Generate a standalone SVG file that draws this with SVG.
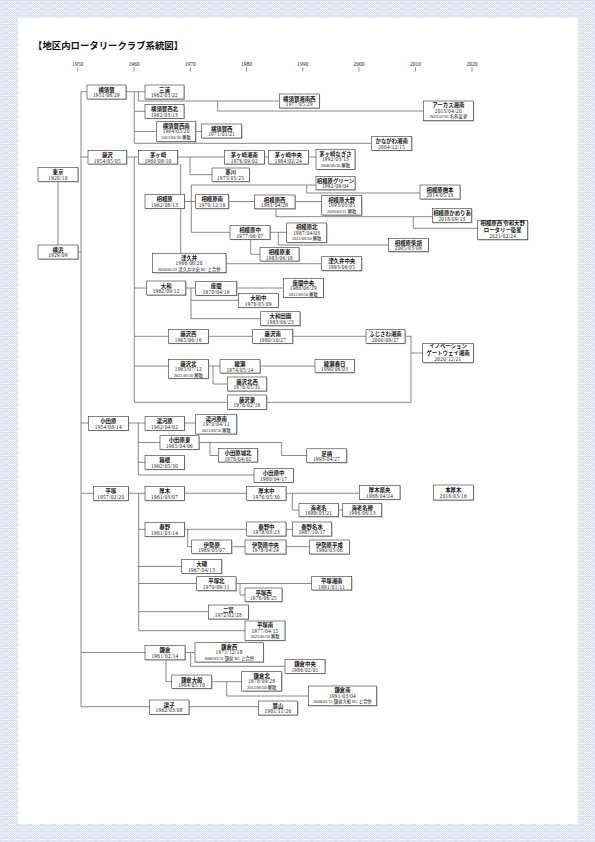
<svg xmlns="http://www.w3.org/2000/svg" xmlns:xlink="http://www.w3.org/1999/xlink" width="595" height="842" viewBox="0 0 595 842">
<style>
.s{fill:#a8a8a8}
.f{fill:#fff;stroke:#333;stroke-width:0.6}
.n{font-family:"Noto Sans CJK JP",sans-serif;font-size:5.4px;font-weight:bold;text-anchor:middle;fill:#111}
.d{font-family:"Liberation Serif","Noto Sans CJK JP",serif;font-size:5.2px;letter-spacing:0.35px;text-anchor:middle;fill:#111}
.e{font-family:"Liberation Serif","Noto Sans CJK JP",serif;font-size:4.3px;text-anchor:middle;fill:#111}
.c path{fill:none;stroke:#6a6a6a;stroke-width:0.8}
.yr{font-family:"Liberation Serif",serif;font-size:5.6px;text-anchor:middle;fill:#222}
.tk{stroke:#444;stroke-width:0.6}
.ttl{font-family:"Noto Sans CJK JP",sans-serif;font-size:9.4px;font-weight:bold;fill:#111}
.wv circle{stroke:#b3c0dc;stroke-width:0.55}
</style>
<defs>
<g id="w" class="wv"><circle r="6" fill="#fff"/><circle r="4.5" fill="none"/><circle r="3" fill="none"/><circle r="1.5" fill="none"/></g>
<pattern id="sg" width="12" height="6" patternUnits="userSpaceOnUse">
<rect width="12" height="6" fill="#fff"/>
<use xlink:href="#w" x="0" y="-6"/><use xlink:href="#w" x="12" y="-6"/>
<use xlink:href="#w" x="6" y="-3"/>
<use xlink:href="#w" x="0" y="0"/><use xlink:href="#w" x="12" y="0"/>
<use xlink:href="#w" x="6" y="3"/>
<use xlink:href="#w" x="0" y="6"/><use xlink:href="#w" x="12" y="6"/>
<use xlink:href="#w" x="6" y="9"/>
</pattern>
</defs>
<rect width="595" height="842" fill="url(#sg)"/>
<rect x="18" y="18" width="560" height="806" fill="#fff"/>
<text class="ttl" x="33" y="49">【地区内ロータリークラブ系統図】</text>
<g id="timeline">
<text class="yr" x="77.7" y="65.5">1950</text><path class="tk" d="M77.7 67.5V71.5"/>
<text class="yr" x="134" y="65.5">1960</text><path class="tk" d="M134 67.5V71.5"/>
<text class="yr" x="190.3" y="65.5">1970</text><path class="tk" d="M190.3 67.5V71.5"/>
<text class="yr" x="246.5" y="65.5">1980</text><path class="tk" d="M246.5 67.5V71.5"/>
<text class="yr" x="302.7" y="65.5">1990</text><path class="tk" d="M302.7 67.5V71.5"/>
<text class="yr" x="359" y="65.5">2000</text><path class="tk" d="M359 67.5V71.5"/>
<text class="yr" x="415.5" y="65.5">2010</text><path class="tk" d="M415.5 67.5V71.5"/>
<text class="yr" x="472" y="65.5">2020</text><path class="tk" d="M472 67.5V71.5"/>
</g>
<g id="connectors" class="c">
<path d="M58 181.5V245"/>
<path d="M78 252H81"/>
<path d="M81 91.7V706.7"/>
<path d="M81 91.7H87"/>
<path d="M126 91.7H145"/>
<path d="M134.3 91.7V143.3"/>
<path d="M138.3 91.7V101H279.3"/>
<path d="M217.7 101V111H423.3"/>
<path d="M134.3 111.3H145"/>
<path d="M134.3 131.5H156.7"/>
<path d="M195.7 131.5H201.7"/>
<path d="M134.3 143.3H371.7"/>
<path d="M81 157H88"/>
<path d="M126.7 157H138.3"/>
<path d="M134.3 157V402.3"/>
<path d="M177.7 157H224.3"/>
<path d="M264.3 157H268.3"/>
<path d="M308.3 157H316"/>
<path d="M190 157V174.7H212"/>
<path d="M180.7 164V194.3"/>
<path d="M180.7 208.3V253.3"/>
<path d="M184.3 201.5H195.7"/>
<path d="M191.3 185V232.3"/>
<path d="M191.3 185H316"/>
<path d="M306.7 185V193H420"/>
<path d="M228.7 201.5H254.3"/>
<path d="M295 201.5H321.7"/>
<path d="M276 208.8V216.7H432.3"/>
<path d="M413.3 216.7V228.3H477.7"/>
<path d="M191.3 232.3H230"/>
<path d="M270 232.3H286.7"/>
<path d="M278.3 232.3V245H388.3"/>
<path d="M250.7 239.3V254.3H260"/>
<path d="M226 263.7H321.7"/>
<path d="M134.3 288H146.7"/>
<path d="M185.7 288H195.7"/>
<path d="M236.7 288H283.3"/>
<path d="M191 288V318.7H260.7"/>
<path d="M191 300.3H238.3"/>
<path d="M134.3 336.3H168.3"/>
<path d="M208.3 336.3H252.7"/>
<path d="M292.7 336.3H366"/>
<path d="M405 336.3H411V402.3"/>
<path d="M411 353H422.7"/>
<path d="M134.3 366H168.3"/>
<path d="M208.3 366H220"/>
<path d="M260 366H315"/>
<path d="M213 366V384H227.3"/>
<path d="M134.3 402.3H227.3"/>
<path d="M266.7 402.3H411"/>
<path d="M81 423H88.3"/>
<path d="M128.3 423H145"/>
<path d="M138.3 423V475"/>
<path d="M184.3 423H195.7"/>
<path d="M138.3 442.5H160"/>
<path d="M199 442.5H281.7V455.5H306.7"/>
<path d="M210 442.5V455.5H218.3"/>
<path d="M138.3 462.3H145"/>
<path d="M138.3 475H254"/>
<path d="M81 493.3H93.3"/>
<path d="M128.3 493.3H145"/>
<path d="M138.7 493.3V630.7"/>
<path d="M184.3 493.3H246.7"/>
<path d="M286 493.3H359.3"/>
<path d="M292.3 493.3V510H299"/>
<path d="M338.3 510H342.7"/>
<path d="M138.7 529.3H145"/>
<path d="M184.3 529.3H246.7"/>
<path d="M286 529.3H292.3"/>
<path d="M187.7 529.3V546.7H191.7"/>
<path d="M231.7 546.7H245"/>
<path d="M286 546.7H309.3"/>
<path d="M138.7 566.5H181.7"/>
<path d="M138.7 583.5H196.7"/>
<path d="M236 583.5H311.7"/>
<path d="M240 583.5V595H245"/>
<path d="M138.7 611.7H208.3"/>
<path d="M138.7 630.7H245"/>
<path d="M81 652.5H145"/>
<path d="M185 652.5H195"/>
<path d="M190.7 652.5V666.3H285"/>
<path d="M166 659.8V681.7H171.7"/>
<path d="M211.7 681.7H241.7"/>
<path d="M226.7 681.7V696H308.3"/>
<path d="M81 706.7H149.3"/>
<path d="M189 706.7H258.3"/>
</g>
<g id="tokyo"><rect class="s" x="38.8" y="168.3" width="40" height="14"/><rect class="f" x="38" y="167.5" width="40" height="14"/><text class="n" x="58" y="174.2">東京</text><text class="d" x="58" y="179.7">1920/10</text></g>
<g id="yokohama"><rect class="s" x="38.8" y="245.8" width="40" height="14"/><rect class="f" x="38" y="245" width="40" height="14"/><text class="n" x="58" y="251.7">横浜</text><text class="d" x="58" y="257.2">1929/09</text></g>
<g id="yokosuka"><rect class="s" x="87.8" y="85.8" width="39" height="14"/><rect class="f" x="87" y="85" width="39" height="14"/><text class="n" x="106.5" y="91.7">横須賀</text><text class="d" x="106.5" y="97.2">1951/06/29</text></g>
<g id="miura"><rect class="s" x="145.8" y="85.8" width="39" height="14"/><rect class="f" x="145" y="85" width="39" height="14"/><text class="n" x="164.5" y="91.7">三浦</text><text class="d" x="164.5" y="97.2">1962/03/22</text></g>
<g id="yokosuka-seihoku"><rect class="s" x="145.8" y="105.1" width="39" height="14"/><rect class="f" x="145" y="104.3" width="39" height="14"/><text class="n" x="164.5" y="111">横須賀西北</text><text class="d" x="164.5" y="116.5">1962/03/13</text></g>
<g id="yokosuka-seinan"><rect class="s" x="157.5" y="122.5" width="39" height="20"/><rect class="f" x="156.7" y="121.7" width="39" height="20"/><text class="n" x="176.2" y="127.9">横須賀西南</text><text class="d" x="176.2" y="133.4">1964/05/20</text><text class="e" x="176.2" y="139">2012/06/30 解散</text></g>
<g id="yokosuka-nishi"><rect class="s" x="202.5" y="124.8" width="40" height="14"/><rect class="f" x="201.7" y="124" width="40" height="14"/><text class="n" x="221.7" y="130.7">横須賀西</text><text class="d" x="221.7" y="136.2">1971/01/21</text></g>
<g id="yokosuka-shonan-nishi"><rect class="s" x="280.1" y="94.8" width="40" height="14"/><rect class="f" x="279.3" y="94" width="40" height="14"/><text class="n" x="299.3" y="100.7">横須賀湘南西</text><text class="d" x="299.3" y="106.2">1977/05/29</text></g>
<g id="arcus-shonan"><rect class="s" x="424.1" y="101.8" width="50" height="19.7"/><rect class="f" x="423.3" y="101" width="50" height="19.7"/><text class="n" x="448.3" y="107.2">アーカス湘南</text><text class="d" x="448.3" y="112.7">2015/04/20</text><text class="e" x="448.3" y="118.3">2023/07/01 名称変更</text></g>
<g id="kanagawa-shonan"><rect class="s" x="372.5" y="137.1" width="40" height="14"/><rect class="f" x="371.7" y="136.3" width="40" height="14"/><text class="n" x="391.7" y="143">かながわ湘南</text><text class="d" x="391.7" y="148.5">2004/12/15</text></g>
<g id="fujisawa"><rect class="s" x="88.8" y="151.1" width="38.7" height="13.7"/><rect class="f" x="88" y="150.3" width="38.7" height="13.7"/><text class="n" x="107.35" y="157">藤沢</text><text class="d" x="107.35" y="162.5">1954/05/05</text></g>
<g id="chigasaki"><rect class="s" x="139.1" y="151.1" width="39.4" height="13.7"/><rect class="f" x="138.3" y="150.3" width="39.4" height="13.7"/><text class="n" x="158" y="157">茅ヶ崎</text><text class="d" x="158" y="162.5">1960/08/10</text></g>
<g id="chigasaki-shonan"><rect class="s" x="225.1" y="151.1" width="40" height="13.7"/><rect class="f" x="224.3" y="150.3" width="40" height="13.7"/><text class="n" x="244.3" y="157">茅ヶ崎湘南</text><text class="d" x="244.3" y="162.5">1976/09/02</text></g>
<g id="chigasaki-chuo"><rect class="s" x="269.1" y="151.1" width="40" height="13.7"/><rect class="f" x="268.3" y="150.3" width="40" height="13.7"/><text class="n" x="288.3" y="157">茅ヶ崎中央</text><text class="d" x="288.3" y="162.5">1984/02/24</text></g>
<g id="chigasaki-nagisa"><rect class="s" x="316.8" y="150.1" width="39" height="20"/><rect class="f" x="316" y="149.3" width="39" height="20"/><text class="n" x="335.5" y="155.5">茅ヶ崎なぎさ</text><text class="d" x="335.5" y="161">1992/03/13</text><text class="e" x="335.5" y="166.6">2008/06/30 解散</text></g>
<g id="samukawa"><rect class="s" x="212.8" y="168.8" width="37.3" height="13.6"/><rect class="f" x="212" y="168" width="37.3" height="13.6"/><text class="n" x="230.65" y="174.4">寒川</text><text class="d" x="230.65" y="180.2">1975/05/25</text></g>
<g id="sagamihara"><rect class="s" x="145.8" y="195.1" width="39.3" height="14"/><rect class="f" x="145" y="194.3" width="39.3" height="14"/><text class="n" x="164.65" y="201">相模原</text><text class="d" x="164.65" y="206.5">1962/08/13</text></g>
<g id="sagamihara-minami"><rect class="s" x="196.5" y="195.3" width="33" height="14"/><rect class="f" x="195.7" y="194.5" width="33" height="14"/><text class="n" x="212.2" y="201.2">相模原南</text><text class="d" x="212.2" y="206.7">1970/12/16</text></g>
<g id="sagamihara-green"><rect class="s" x="316.8" y="177.1" width="39" height="13.5"/><rect class="f" x="316" y="176.3" width="39" height="13.5"/><text class="n" x="335.5" y="183" font-size="4.8">相模原グリーン</text><text class="d" x="335.5" y="188.4">1992/09/04</text></g>
<g id="sagamihara-hashimoto"><rect class="s" x="420.8" y="185.8" width="40" height="14"/><rect class="f" x="420" y="185" width="40" height="14"/><text class="n" x="440" y="191.7">相模原橋本</text><text class="d" x="440" y="197.2">2014/05/13</text></g>
<g id="sagamihara-nishi"><rect class="s" x="255.1" y="195.8" width="40.7" height="13.8"/><rect class="f" x="254.3" y="195" width="40.7" height="13.8"/><text class="n" x="274.65" y="201.7">相模原西</text><text class="d" x="274.65" y="207.2">1981/04/28</text></g>
<g id="sagamihara-ono"><rect class="s" x="322.5" y="196.3" width="40" height="19.5"/><rect class="f" x="321.7" y="195.5" width="40" height="19.5"/><text class="n" x="341.7" y="201.7">相模原大野</text><text class="d" x="341.7" y="207.2">1993/05/05</text><text class="e" x="341.7" y="212.8">2020/03/31 解散</text></g>
<g id="sagamihara-kameria"><rect class="s" x="433.1" y="209.3" width="39.4" height="14"/><rect class="f" x="432.3" y="208.5" width="39.4" height="14"/><text class="n" x="452" y="215.2" font-size="4.9">相模原かめりあ</text><text class="d" x="452" y="220.7">2018/09/13</text></g>
<g id="sagamihara-nishi-reiwa-ono"><rect class="s" x="478.5" y="221.1" width="50" height="19.4"/><rect class="f" x="477.7" y="220.3" width="50" height="19.4"/><text class="n" x="502.7" y="225.4" font-size="4.4">相模原西 令和大野</text><text class="n" x="502.7" y="231.8" font-size="4.4">ロータリー衛星</text><text class="d" x="502.7" y="238.1">2021/02/24</text></g>
<g id="sagamihara-naka"><rect class="s" x="230.8" y="226.1" width="40" height="14"/><rect class="f" x="230" y="225.3" width="40" height="14"/><text class="n" x="250" y="232">相模原中</text><text class="d" x="250" y="237.5">1977/06/07</text></g>
<g id="sagamihara-kita"><rect class="s" x="287.5" y="223.8" width="40" height="19.4"/><rect class="f" x="286.7" y="223" width="40" height="19.4"/><text class="n" x="306.7" y="229.2">相模原北</text><text class="d" x="306.7" y="234.7">1987/04/03</text><text class="e" x="306.7" y="240.3">2012/06/30 解散</text></g>
<g id="sagamihara-saiko"><rect class="s" x="389.1" y="239.1" width="40" height="13.4"/><rect class="f" x="388.3" y="238.3" width="40" height="13.4"/><text class="n" x="408.3" y="244.9">相模原柴胡</text><text class="d" x="408.3" y="250.3">2005/03/08</text></g>
<g id="sagamihara-higashi"><rect class="s" x="260.8" y="248.3" width="39" height="13.5"/><rect class="f" x="260" y="247.5" width="39" height="13.5"/><text class="n" x="279.5" y="254.2">相模原東</text><text class="d" x="279.5" y="259.6">1983/06/18</text></g>
<g id="tsukui"><rect class="s" x="153.1" y="254.1" width="73.7" height="19.4"/><rect class="f" x="152.3" y="253.3" width="73.7" height="19.4"/><text class="n" x="189.15" y="259.5">津久井</text><text class="d" x="189.15" y="265">1966/06/20</text><text class="e" x="189.15" y="270.6">2020/05/31 津久井中央 RC と合併</text></g>
<g id="tsukui-chuo"><rect class="s" x="322.5" y="257.5" width="40" height="14"/><rect class="f" x="321.7" y="256.7" width="40" height="14"/><text class="n" x="341.7" y="263.4">津久井中央</text><text class="d" x="341.7" y="268.9">1993/06/05</text></g>
<g id="yamato"><rect class="s" x="147.5" y="281.8" width="39" height="14"/><rect class="f" x="146.7" y="281" width="39" height="14"/><text class="n" x="166.2" y="287.7">大和</text><text class="d" x="166.2" y="293.2">1962/09/12</text></g>
<g id="zama"><rect class="s" x="196.5" y="282.1" width="41" height="14"/><rect class="f" x="195.7" y="281.3" width="41" height="14"/><text class="n" x="216.2" y="288">座間</text><text class="d" x="216.2" y="293.5">1970/04/16</text></g>
<g id="zama-chuo"><rect class="s" x="284.1" y="279.1" width="40" height="19"/><rect class="f" x="283.3" y="278.3" width="40" height="19"/><text class="n" x="303.3" y="284.5">座間中央</text><text class="d" x="303.3" y="290">1986/06/29</text><text class="e" x="303.3" y="295.5">2011/06/30 解散</text></g>
<g id="yamato-naka"><rect class="s" x="239.1" y="294.1" width="40" height="14"/><rect class="f" x="238.3" y="293.3" width="40" height="14"/><text class="n" x="258.3" y="300">大和中</text><text class="d" x="258.3" y="305.5">1976/05/09</text></g>
<g id="yamato-denen"><rect class="s" x="261.5" y="312.5" width="39.3" height="14"/><rect class="f" x="260.7" y="311.7" width="39.3" height="14"/><text class="n" x="280.35" y="318.4">大和田園</text><text class="d" x="280.35" y="323.9">1983/06/23</text></g>
<g id="fujisawa-nishi"><rect class="s" x="169.1" y="330.1" width="40" height="14"/><rect class="f" x="168.3" y="329.3" width="40" height="14"/><text class="n" x="188.3" y="336">藤沢西</text><text class="d" x="188.3" y="341.5">1965/06/16</text></g>
<g id="fujisawa-minami"><rect class="s" x="253.5" y="330.1" width="40" height="14"/><rect class="f" x="252.7" y="329.3" width="40" height="14"/><text class="n" x="272.7" y="336">藤沢南</text><text class="d" x="272.7" y="341.5">1980/10/27</text></g>
<g id="fujisawa-shonan"><rect class="s" x="366.8" y="330.5" width="39" height="13.6"/><rect class="f" x="366" y="329.7" width="39" height="13.6"/><text class="n" x="385.5" y="336.4">ふじさわ湘南</text><text class="d" x="385.5" y="341.9">2000/09/27</text></g>
<g id="innovation-gateway-shonan"><rect class="s" x="423.5" y="344.1" width="50.6" height="19.4"/><rect class="f" x="422.7" y="343.3" width="50.6" height="19.4"/><text class="n" x="448" y="348.4" font-size="4.5">イノベーション</text><text class="n" x="448" y="354.8" font-size="4.5">ゲートウェイ湘南</text><text class="d" x="448" y="361.1">2020/12/21</text></g>
<g id="fujisawa-kita"><rect class="s" x="169.1" y="360.1" width="40" height="19"/><rect class="f" x="168.3" y="359.3" width="40" height="19"/><text class="n" x="188.3" y="365.5">藤沢北</text><text class="d" x="188.3" y="371">1965/07/12</text><text class="e" x="188.3" y="376.5">2021/06/30 解散</text></g>
<g id="ayase"><rect class="s" x="220.8" y="360.3" width="40" height="13.5"/><rect class="f" x="220" y="359.5" width="40" height="13.5"/><text class="n" x="240" y="366.2">綾瀬</text><text class="d" x="240" y="371.6">1974/05/14</text></g>
<g id="ayase-kasuga"><rect class="s" x="315.8" y="360.1" width="39.3" height="13.4"/><rect class="f" x="315" y="359.3" width="39.3" height="13.4"/><text class="n" x="334.65" y="366">綾瀬春日</text><text class="d" x="334.65" y="371.4">1990/06/03</text></g>
<g id="fujisawa-hokusei"><rect class="s" x="228.1" y="377.8" width="39.4" height="14"/><rect class="f" x="227.3" y="377" width="39.4" height="14"/><text class="n" x="247" y="383.7">藤沢北西</text><text class="d" x="247" y="389.2">1976/05/31</text></g>
<g id="fujisawa-higashi"><rect class="s" x="228.1" y="395.8" width="39.4" height="14.3"/><rect class="f" x="227.3" y="395" width="39.4" height="14.3"/><text class="n" x="247" y="401.7">藤沢東</text><text class="d" x="247" y="407.2">1976/02/18</text></g>
<g id="odawara"><rect class="s" x="89.1" y="417.1" width="40" height="14"/><rect class="f" x="88.3" y="416.3" width="40" height="14"/><text class="n" x="108.3" y="423">小田原</text><text class="d" x="108.3" y="428.5">1954/08/14</text></g>
<g id="yugawara"><rect class="s" x="145.8" y="417.1" width="39.3" height="14"/><rect class="f" x="145" y="416.3" width="39.3" height="14"/><text class="n" x="164.65" y="423">湯河原</text><text class="d" x="164.65" y="428.5">1962/04/02</text></g>
<g id="yugawara-minami"><rect class="s" x="196.5" y="415.3" width="41" height="19.5"/><rect class="f" x="195.7" y="414.5" width="41" height="19.5"/><text class="n" x="216.2" y="420.7">湯河原南</text><text class="d" x="216.2" y="426.2">1970/04/11</text><text class="e" x="216.2" y="431.8">2011/06/30 解散</text></g>
<g id="odawara-higashi"><rect class="s" x="160.8" y="436.5" width="39" height="13.6"/><rect class="f" x="160" y="435.7" width="39" height="13.6"/><text class="n" x="179.5" y="442.4">小田原東</text><text class="d" x="179.5" y="447.9">1965/04/06</text></g>
<g id="odawara-johoku"><rect class="s" x="219.1" y="449.4" width="39.4" height="13.4"/><rect class="f" x="218.3" y="448.6" width="39.4" height="13.4"/><text class="n" x="238" y="455.3">小田原城北</text><text class="d" x="238" y="460.7">1976/04/02</text></g>
<g id="ashigara"><rect class="s" x="307.5" y="449.6" width="40" height="13.8"/><rect class="f" x="306.7" y="448.8" width="40" height="13.8"/><text class="n" x="326.7" y="455.5">足柄</text><text class="d" x="326.7" y="461">1993/04/27</text></g>
<g id="hakone"><rect class="s" x="145.8" y="456.3" width="39.3" height="13.8"/><rect class="f" x="145" y="455.5" width="39.3" height="13.8"/><text class="n" x="164.65" y="462.2">箱根</text><text class="d" x="164.65" y="467.7">1962/05/30</text></g>
<g id="odawara-naka"><rect class="s" x="254.8" y="469.1" width="39.3" height="14"/><rect class="f" x="254" y="468.3" width="39.3" height="14"/><text class="n" x="273.65" y="475">小田原中</text><text class="d" x="273.65" y="480.5">1980/04/17</text></g>
<g id="hiratsuka"><rect class="s" x="94.1" y="487.3" width="35" height="14"/><rect class="f" x="93.3" y="486.5" width="35" height="14"/><text class="n" x="110.8" y="493.2">平塚</text><text class="d" x="110.8" y="498.7">1957/02/20</text></g>
<g id="atsugi"><rect class="s" x="145.8" y="487.3" width="39.3" height="14"/><rect class="f" x="145" y="486.5" width="39.3" height="14"/><text class="n" x="164.65" y="493.2">厚木</text><text class="d" x="164.65" y="498.7">1961/03/07</text></g>
<g id="atsugi-naka"><rect class="s" x="247.5" y="487.1" width="39.3" height="14"/><rect class="f" x="246.7" y="486.3" width="39.3" height="14"/><text class="n" x="266.35" y="493">厚木中</text><text class="d" x="266.35" y="498.5">1976/05/30</text></g>
<g id="atsugi-kenou"><rect class="s" x="360.1" y="486.1" width="40.7" height="14"/><rect class="f" x="359.3" y="485.3" width="40.7" height="14"/><text class="n" x="379.65" y="492">厚木県央</text><text class="d" x="379.65" y="497.5">1988/04/24</text></g>
<g id="ebina"><rect class="s" x="299.8" y="504.1" width="39.3" height="13.4"/><rect class="f" x="299" y="503.3" width="39.3" height="13.4"/><text class="n" x="318.65" y="510">海老名</text><text class="d" x="318.65" y="515.4">1988/03/21</text></g>
<g id="ebina-keyaki"><rect class="s" x="343.5" y="504.1" width="39" height="13.4"/><rect class="f" x="342.7" y="503.3" width="39" height="13.4"/><text class="n" x="362.2" y="510">海老名欅</text><text class="d" x="362.2" y="515.4">1996/06/13</text></g>
<g id="hon-atsugi"><rect class="s" x="434.1" y="485.8" width="40" height="15"/><rect class="f" x="433.3" y="485" width="40" height="15"/><text class="n" x="453.3" y="492.2">本厚木</text><text class="d" x="453.3" y="497.9">2016/03/16</text></g>
<g id="hadano"><rect class="s" x="145.8" y="523.1" width="39.3" height="14.2"/><rect class="f" x="145" y="522.3" width="39.3" height="14.2"/><text class="n" x="164.65" y="529">秦野</text><text class="d" x="164.65" y="534.5">1961/03/14</text></g>
<g id="hadano-naka"><rect class="s" x="247.5" y="522.8" width="39.3" height="14"/><rect class="f" x="246.7" y="522" width="39.3" height="14"/><text class="n" x="266.35" y="528.7">秦野中</text><text class="d" x="266.35" y="534.2">1978/03/23</text></g>
<g id="hadano-meisui"><rect class="s" x="293.1" y="522.8" width="39.4" height="14"/><rect class="f" x="292.3" y="522" width="39.4" height="14"/><text class="n" x="312" y="528.7">秦野名水</text><text class="d" x="312" y="534.2">1987/10/17</text></g>
<g id="isehara"><rect class="s" x="192.5" y="540.8" width="40" height="13.4"/><rect class="f" x="191.7" y="540" width="40" height="13.4"/><text class="n" x="211.7" y="546.7">伊勢原</text><text class="d" x="211.7" y="552.1">1969/05/07</text></g>
<g id="isehara-chuo"><rect class="s" x="245.8" y="540.8" width="41" height="14"/><rect class="f" x="245" y="540" width="41" height="14"/><text class="n" x="265.5" y="546.7">伊勢原中央</text><text class="d" x="265.5" y="552.2">1978/04/24</text></g>
<g id="isehara-heisei"><rect class="s" x="310.1" y="540.8" width="40" height="14"/><rect class="f" x="309.3" y="540" width="40" height="14"/><text class="n" x="329.3" y="546.7">伊勢原平成</text><text class="d" x="329.3" y="552.2">1990/03/06</text></g>
<g id="oiso"><rect class="s" x="182.5" y="560.1" width="40" height="14"/><rect class="f" x="181.7" y="559.3" width="40" height="14"/><text class="n" x="201.7" y="566">大磯</text><text class="d" x="201.7" y="571.5">1967/04/13</text></g>
<g id="hiratsuka-kita"><rect class="s" x="197.5" y="577.5" width="39.3" height="14"/><rect class="f" x="196.7" y="576.7" width="39.3" height="14"/><text class="n" x="216.35" y="583.4">平塚北</text><text class="d" x="216.35" y="588.9">1970/09/11</text></g>
<g id="hiratsuka-shonan"><rect class="s" x="312.5" y="577.1" width="40" height="13.7"/><rect class="f" x="311.7" y="576.3" width="40" height="13.7"/><text class="n" x="331.7" y="583">平塚湘南</text><text class="d" x="331.7" y="588.5">1991/01/11</text></g>
<g id="hiratsuka-nishi"><rect class="s" x="245.8" y="588.8" width="37" height="13.7"/><rect class="f" x="245" y="588" width="37" height="13.7"/><text class="n" x="263.5" y="594.7">平塚西</text><text class="d" x="263.5" y="600.2">1976/06/25</text></g>
<g id="ninomiya"><rect class="s" x="209.1" y="605.8" width="40" height="14"/><rect class="f" x="208.3" y="605" width="40" height="14"/><text class="n" x="228.3" y="611.7">二宮</text><text class="d" x="228.3" y="617.2">1972/02/28</text></g>
<g id="hiratsuka-minami"><rect class="s" x="245.8" y="621.8" width="40" height="19.4"/><rect class="f" x="245" y="621" width="40" height="19.4"/><text class="n" x="265" y="627.2">平塚南</text><text class="d" x="265" y="632.7">1977/04/15</text><text class="e" x="265" y="638.3">2023/06/30 解散</text></g>
<g id="kamakura"><rect class="s" x="145.8" y="646.3" width="40" height="14.3"/><rect class="f" x="145" y="645.5" width="40" height="14.3"/><text class="n" x="165" y="652.2">鎌倉</text><text class="d" x="165" y="657.7">1961/02/14</text></g>
<g id="kamakura-nishi"><rect class="s" x="195.8" y="643.5" width="68.3" height="19.3"/><rect class="f" x="195" y="642.7" width="68.3" height="19.3"/><text class="n" x="229.15" y="648.9">鎌倉西</text><text class="d" x="229.15" y="654.4">1971/12/18</text><text class="e" x="229.15" y="660">2009/03/31 鎌倉 RC と合併</text></g>
<g id="kamakura-chuo"><rect class="s" x="285.8" y="660.1" width="40" height="14"/><rect class="f" x="285" y="659.3" width="40" height="14"/><text class="n" x="305" y="666">鎌倉中央</text><text class="d" x="305" y="671.5">1986/02/01</text></g>
<g id="kamakura-ofuna"><rect class="s" x="172.5" y="675.8" width="40" height="13.4"/><rect class="f" x="171.7" y="675" width="40" height="13.4"/><text class="n" x="191.7" y="681.7">鎌倉大船</text><text class="d" x="191.7" y="687.1">1964/05/10</text></g>
<g id="kamakura-kita"><rect class="s" x="242.5" y="672.5" width="40" height="19.3"/><rect class="f" x="241.7" y="671.7" width="40" height="19.3"/><text class="n" x="261.7" y="677.9">鎌倉北</text><text class="d" x="261.7" y="683.4">1978/09/28</text><text class="e" x="261.7" y="689">2012/06/30 解散</text></g>
<g id="kamakura-minami"><rect class="s" x="309.1" y="686.8" width="68.4" height="19.7"/><rect class="f" x="308.3" y="686" width="68.4" height="19.7"/><text class="n" x="342.5" y="692.2">鎌倉南</text><text class="d" x="342.5" y="697.7">1991/03/04</text><text class="e" x="342.5" y="703.3">2008/03/15 鎌倉大船 RC と合併</text></g>
<g id="zushi"><rect class="s" x="150.1" y="700.8" width="39.7" height="14.3"/><rect class="f" x="149.3" y="700" width="39.7" height="14.3"/><text class="n" x="169.15" y="706.7">逗子</text><text class="d" x="169.15" y="712.2">1962/03/08</text></g>
<g id="hayama"><rect class="s" x="259.1" y="701.8" width="39.4" height="14"/><rect class="f" x="258.3" y="701" width="39.4" height="14"/><text class="n" x="278" y="707.7">葉山</text><text class="d" x="278" y="713.2">1981/11/26</text></g>
</svg>
